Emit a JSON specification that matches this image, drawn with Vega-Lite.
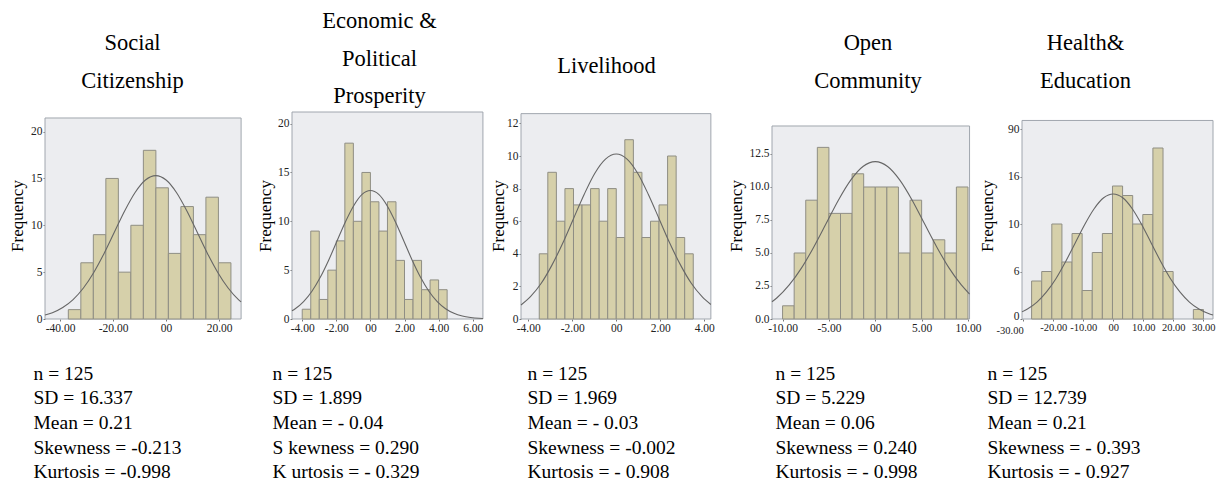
{
  "$schema": "https://vega.github.io/schema/vega-lite/v6.json",
  "padding": {"left": 8, "top": 10, "right": 0, "bottom": 0},
  "background": "white",
  "bounds": "flush",
  "spacing": 20,
  "config": {
    "view": {"stroke": null, "fill": null},
    "font": "Liberation Serif",
    "axis": {"grid": false, "domain": false, "tickSize": 2, "tickColor": "#777777", "labelFont": "Liberation Serif", "labelFontSize": 11.5, "labelColor": "#222222", "labelPadding": 1.5, "labelFlush": false, "labelOverlap": false, "titleFont": "Liberation Serif", "titleFontWeight": "normal", "titleColor": "#000000"},
    "axisX": {"titleAlign": "left", "titleBaseline": "top", "titleFontSize": 19.5, "titleLineHeight": 24.7, "titleY": 45},
    "axisY": {"titleFontSize": 17, "titleBaseline": "middle", "titleAlign": "center", "titleY": 103.5, "labelPadding": 1},
    "title": {"font": "Liberation Serif", "fontSize": 22.5, "fontWeight": "normal", "color": "#000000", "lineHeight": 37.5, "anchor": "middle", "frame": "group", "baseline": "bottom"}
  },
  "datasets": {
    "p1frame": [{"x": -45.7, "x2": 28.3, "y": 0, "y2": 21.45}],
    "p1bars": [
      {"x": -36.9, "x2": -32.18, "y": 1}, {"x": -32.18, "x2": -27.46, "y": 6}, {"x": -27.46, "x2": -22.74, "y": 9},
      {"x": -22.74, "x2": -18.02, "y": 15}, {"x": -18.02, "x2": -13.3, "y": 5}, {"x": -13.3, "x2": -8.58, "y": 10},
      {"x": -8.58, "x2": -3.86, "y": 18}, {"x": -3.86, "x2": 0.86, "y": 14}, {"x": 0.86, "x2": 5.58, "y": 7},
      {"x": 5.58, "x2": 10.3, "y": 12}, {"x": 10.3, "x2": 15.02, "y": 9}, {"x": 15.02, "x2": 19.74, "y": 13},
      {"x": 19.74, "x2": 24.46, "y": 6}
    ],
    "p1curve": [
      {"x": -45.7, "y": 0.42}, {"x": -42.9, "y": 0.67}, {"x": -39.0, "y": 1.22}, {"x": -35.1, "y": 2.07},
      {"x": -31.2, "y": 3.31}, {"x": -27.3, "y": 4.97}, {"x": -23.4, "y": 7.0}, {"x": -19.5, "y": 9.28},
      {"x": -15.6, "y": 11.55}, {"x": -11.7, "y": 13.5}, {"x": -7.8, "y": 14.83}, {"x": -3.9, "y": 15.3},
      {"x": 0.0, "y": 14.83}, {"x": 3.9, "y": 13.5}, {"x": 7.8, "y": 11.55}, {"x": 11.7, "y": 9.28},
      {"x": 15.6, "y": 7.0}, {"x": 19.5, "y": 4.97}, {"x": 23.4, "y": 3.31}, {"x": 27.3, "y": 2.07},
      {"x": 28.3, "y": 1.82}
    ],
    "p2frame": [{"x": -4.6, "x2": 6.6, "y": 0, "y2": 21.19}],
    "p2bars": [
      {"x": -4.0, "x2": -3.5, "y": 1}, {"x": -3.5, "x2": -3.0, "y": 9}, {"x": -3.0, "x2": -2.5, "y": 2},
      {"x": -2.5, "x2": -2.0, "y": 5}, {"x": -2.0, "x2": -1.5, "y": 8}, {"x": -1.5, "x2": -1.0, "y": 18},
      {"x": -1.0, "x2": -0.5, "y": 10}, {"x": -0.5, "x2": 0.0, "y": 15}, {"x": 0.0, "x2": 0.5, "y": 12},
      {"x": 0.5, "x2": 1.0, "y": 9}, {"x": 1.0, "x2": 1.5, "y": 12}, {"x": 1.5, "x2": 2.0, "y": 6},
      {"x": 2.0, "x2": 2.5, "y": 2}, {"x": 2.5, "x2": 3.0, "y": 6}, {"x": 3.0, "x2": 3.5, "y": 3},
      {"x": 3.5, "x2": 4.0, "y": 4}, {"x": 4.0, "x2": 4.5, "y": 3}
    ],
    "p2curve": [
      {"x": -4.6, "y": 0.84}, {"x": -4.41, "y": 1.05}, {"x": -3.92, "y": 1.78}, {"x": -3.43, "y": 2.84},
      {"x": -2.94, "y": 4.27}, {"x": -2.45, "y": 6.02}, {"x": -1.96, "y": 7.98}, {"x": -1.47, "y": 9.93},
      {"x": -0.98, "y": 11.6}, {"x": -0.49, "y": 12.75}, {"x": 0.0, "y": 13.15}, {"x": 0.49, "y": 12.75},
      {"x": 0.98, "y": 11.6}, {"x": 1.47, "y": 9.93}, {"x": 1.96, "y": 7.98}, {"x": 2.45, "y": 6.02},
      {"x": 2.94, "y": 4.27}, {"x": 3.43, "y": 2.84}, {"x": 3.92, "y": 1.78}, {"x": 4.41, "y": 1.05},
      {"x": 4.9, "y": 0.58}, {"x": 5.39, "y": 0.3}, {"x": 5.88, "y": 0.15}, {"x": 6.37, "y": 0.07},
      {"x": 6.6, "y": 0.05}
    ],
    "p3frame": [{"x": -4.33, "x2": 4.3, "y": 0, "y2": 12.6}],
    "p3bars": [
      {"x": -3.5, "x2": -3.111, "y": 4}, {"x": -3.111, "x2": -2.722, "y": 9}, {"x": -2.722, "x2": -2.333, "y": 6},
      {"x": -2.333, "x2": -1.944, "y": 8}, {"x": -1.944, "x2": -1.556, "y": 7}, {"x": -1.556, "x2": -1.167, "y": 7},
      {"x": -1.167, "x2": -0.778, "y": 8}, {"x": -0.778, "x2": -0.389, "y": 6}, {"x": -0.389, "x2": 0.0, "y": 8},
      {"x": 0.0, "x2": 0.389, "y": 5}, {"x": 0.389, "x2": 0.778, "y": 11}, {"x": 0.778, "x2": 1.167, "y": 9},
      {"x": 1.167, "x2": 1.556, "y": 5}, {"x": 1.556, "x2": 1.944, "y": 6}, {"x": 1.944, "x2": 2.333, "y": 7},
      {"x": 2.333, "x2": 2.722, "y": 10}, {"x": 2.722, "x2": 3.111, "y": 5}, {"x": 3.111, "x2": 3.5, "y": 4}
    ],
    "p3curve": [
      {"x": -4.33, "y": 0.86}, {"x": -3.9, "y": 1.37}, {"x": -3.41, "y": 2.19}, {"x": -2.93, "y": 3.29},
      {"x": -2.44, "y": 4.63}, {"x": -1.95, "y": 6.14}, {"x": -1.46, "y": 7.64}, {"x": -0.98, "y": 8.93},
      {"x": -0.49, "y": 9.81}, {"x": 0.0, "y": 10.12}, {"x": 0.49, "y": 9.81}, {"x": 0.98, "y": 8.93},
      {"x": 1.46, "y": 7.64}, {"x": 1.95, "y": 6.14}, {"x": 2.44, "y": 4.63}, {"x": 2.93, "y": 3.29},
      {"x": 3.41, "y": 2.19}, {"x": 3.9, "y": 1.37}, {"x": 4.3, "y": 0.89}
    ],
    "p4frame": [{"x": -11.14, "x2": 10.17, "y": 0, "y2": 14.62}],
    "p4bars": [
      {"x": -10.0, "x2": -8.75, "y": 1}, {"x": -8.75, "x2": -7.5, "y": 5}, {"x": -7.5, "x2": -6.25, "y": 9},
      {"x": -6.25, "x2": -5.0, "y": 13}, {"x": -5.0, "x2": -3.75, "y": 8}, {"x": -3.75, "x2": -2.5, "y": 8},
      {"x": -2.5, "x2": -1.25, "y": 11}, {"x": -1.25, "x2": 0.0, "y": 10}, {"x": 0.0, "x2": 1.25, "y": 10},
      {"x": 1.25, "x2": 2.5, "y": 10}, {"x": 2.5, "x2": 3.75, "y": 5}, {"x": 3.75, "x2": 5.0, "y": 9},
      {"x": 5.0, "x2": 6.25, "y": 5}, {"x": 6.25, "x2": 7.5, "y": 6}, {"x": 7.5, "x2": 8.75, "y": 5},
      {"x": 8.75, "x2": 10.0, "y": 10}
    ],
    "p4curve": [
      {"x": -11.14, "y": 1.31}, {"x": -10.6, "y": 1.61}, {"x": -9.28, "y": 2.58}, {"x": -7.95, "y": 3.87},
      {"x": -6.63, "y": 5.46}, {"x": -5.3, "y": 7.23}, {"x": -3.98, "y": 9.0}, {"x": -2.65, "y": 10.52},
      {"x": -1.33, "y": 11.55}, {"x": 0.0, "y": 11.92}, {"x": 1.33, "y": 11.55}, {"x": 2.65, "y": 10.52},
      {"x": 3.98, "y": 9.0}, {"x": 5.3, "y": 7.23}, {"x": 6.63, "y": 5.46}, {"x": 7.95, "y": 3.87},
      {"x": 9.28, "y": 2.58}, {"x": 10.17, "y": 1.89}
    ],
    "p5frame": [{"x": -30.4, "x2": 33.27, "y": 0, "y2": 20.9}],
    "p5bars": [
      {"x": -27.2, "x2": -23.83, "y": 4}, {"x": -23.83, "x2": -20.46, "y": 5}, {"x": -20.46, "x2": -17.09, "y": 10},
      {"x": -17.09, "x2": -13.72, "y": 6}, {"x": -13.72, "x2": -10.35, "y": 9}, {"x": -10.35, "x2": -6.98, "y": 3},
      {"x": -6.98, "x2": -3.61, "y": 7}, {"x": -3.61, "x2": -0.24, "y": 9}, {"x": -0.24, "x2": 3.13, "y": 14},
      {"x": 3.13, "x2": 6.5, "y": 13}, {"x": 6.5, "x2": 9.87, "y": 10}, {"x": 9.87, "x2": 13.24, "y": 11},
      {"x": 13.24, "x2": 16.61, "y": 18}, {"x": 16.61, "x2": 19.98, "y": 5}, {"x": 26.72, "x2": 30.09, "y": 1}
    ],
    "p5curve": [
      {"x": -30.4, "y": 0.75}, {"x": -28.58, "y": 1.05}, {"x": -25.4, "y": 1.78}, {"x": -22.23, "y": 2.85},
      {"x": -19.05, "y": 4.27}, {"x": -15.88, "y": 6.03}, {"x": -12.7, "y": 7.98}, {"x": -9.53, "y": 9.93},
      {"x": -6.35, "y": 11.61}, {"x": -3.18, "y": 12.76}, {"x": 0.0, "y": 13.16}, {"x": 3.18, "y": 12.76},
      {"x": 6.35, "y": 11.61}, {"x": 9.53, "y": 9.93}, {"x": 12.7, "y": 7.98}, {"x": 15.88, "y": 6.03},
      {"x": 19.05, "y": 4.27}, {"x": 22.23, "y": 2.85}, {"x": 25.4, "y": 1.78}, {"x": 28.58, "y": 1.05},
      {"x": 31.75, "y": 0.58}, {"x": 33.27, "y": 0.43}
    ]
  },
  "hconcat": [
    {
      "width": 227, "height": 207,
      "title": {"text": ["Social", "Citizenship"], "offset": 20, "dx": -26},
      "encoding": {
        "x": {"field": "x", "type": "quantitative", "scale": {"domain": [-45.7, 39.96], "nice": false, "zero": false},
          "axis": {"values": [-40, -20, 0, 20], "labelExpr": "datum.value == 0 ? '00' : replace(format(datum.value, '.2f'), '\u2212', '-')",
            "title": ["n = 125", "SD = 16.337", "Mean = 0.21", "Skewness = -0.213", "Kurtosis = -0.998"], "titleX": -12}},
        "y": {"field": "y", "type": "quantitative", "scale": {"domain": [0, 22.09], "nice": false},
          "axis": {"values": [0, 5, 10, 15, 20], "title": "Frequency", "titleX": -28}}
      },
      "layer": [
        {"data": {"name": "p1frame"}, "mark": {"type": "rect", "fill": "#ECEDF0", "stroke": "#A0A6AE", "strokeWidth": 1}, "encoding": {"x2": {"field": "x2"}, "y2": {"field": "y2"}}},
        {"data": {"name": "p1bars"}, "mark": {"type": "rect", "fill": "#D6D0AA", "stroke": "#8F8E84", "strokeWidth": 1}, "encoding": {"x2": {"field": "x2"}, "y2": {"datum": 0}}},
        {"data": {"name": "p1curve"}, "mark": {"type": "line", "color": "#666666", "strokeWidth": 1.1, "interpolate": "monotone"}, "encoding": {}}
      ]
    },
    {
      "width": 209, "height": 207,
      "title": {"text": ["Economic &", "Political", "Prosperity"], "offset": 4, "dx": -17},
      "encoding": {
        "x": {"field": "x", "type": "quantitative", "scale": {"domain": [-4.6, 7.66], "nice": false, "zero": false},
          "axis": {"values": [-4, -2, 0, 2, 4, 6], "labelExpr": "datum.value == 0 ? '00' : replace(format(datum.value, '.2f'), '\u2212', '-')",
            "title": ["n = 125", "SD = 1.899", "Mean = - 0.04", "S kewness =  0.290", "K urtosis = - 0.329"], "titleX": -20}},
        "y": {"field": "y", "type": "quantitative", "scale": {"domain": [0, 21.19], "nice": false},
          "axis": {"values": [0, 5, 10, 15, 20], "title": "Frequency", "titleX": -27}}
      },
      "layer": [
        {"data": {"name": "p2frame"}, "mark": {"type": "rect", "fill": "#ECEDF0", "stroke": "#A0A6AE", "strokeWidth": 1}, "encoding": {"x2": {"field": "x2"}, "y2": {"field": "y2"}}},
        {"data": {"name": "p2bars"}, "mark": {"type": "rect", "fill": "#D6D0AA", "stroke": "#8F8E84", "strokeWidth": 1}, "encoding": {"x2": {"field": "x2"}, "y2": {"datum": 0}}},
        {"data": {"name": "p2curve"}, "mark": {"type": "line", "color": "#666666", "strokeWidth": 1.1, "interpolate": "monotone"}, "encoding": {}}
      ]
    },
    {
      "width": 231, "height": 207,
      "title": {"text": ["Livelihood"], "offset": 35, "dx": -30},
      "encoding": {
        "x": {"field": "x", "type": "quantitative", "scale": {"domain": [-4.33, 6.17], "nice": false, "zero": false},
          "axis": {"values": [-4, -2, 0, 2, 4], "labelExpr": "datum.value == 0 ? '00' : replace(format(datum.value, '.2f'), '\u2212', '-')",
            "title": ["n = 125", "SD = 1.969", "Mean =  - 0.03", "Skewness = -0.002", "Kurtosis = - 0.908"], "titleX": 6}},
        "y": {"field": "y", "type": "quantitative", "scale": {"domain": [0, 12.7], "nice": false},
          "axis": {"values": [0, 2, 4, 6, 8, 10, 12], "title": "Frequency", "titleX": -23}}
      },
      "layer": [
        {"data": {"name": "p3frame"}, "mark": {"type": "rect", "fill": "#ECEDF0", "stroke": "#A0A6AE", "strokeWidth": 1}, "encoding": {"x2": {"field": "x2"}, "y2": {"field": "y2"}}},
        {"data": {"name": "p3bars"}, "mark": {"type": "rect", "fill": "#D6D0AA", "stroke": "#8F8E84", "strokeWidth": 1}, "encoding": {"x2": {"field": "x2"}, "y2": {"datum": 0}}},
        {"data": {"name": "p3curve"}, "mark": {"type": "line", "color": "#666666", "strokeWidth": 1.1, "interpolate": "monotone"}, "encoding": {}}
      ]
    },
    {
      "width": 230, "height": 207,
      "title": {"text": ["Open", "Community"], "offset": 20, "dx": -19},
      "encoding": {
        "x": {"field": "x", "type": "quantitative", "scale": {"domain": [-11.14, 13.67], "nice": false, "zero": false},
          "axis": {"values": [-10, -5, 0, 5, 10], "labelExpr": "datum.value == 0 ? '00' : replace(format(datum.value, '.2f'), '\u2212', '-')",
            "title": ["n = 125", "SD =  5.229", "Mean = 0.06", "Skewness = 0.240", "Kurtosis =  - 0.998"], "titleX": 3}},
        "y": {"field": "y", "type": "quantitative", "scale": {"domain": [0, 15.68], "nice": false},
          "axis": {"values": [0, 2.5, 5, 7.5, 10, 12.5], "format": ".1f", "title": "Frequency", "titleX": -36}}
      },
      "layer": [
        {"data": {"name": "p4frame"}, "mark": {"type": "rect", "fill": "#ECEDF0", "stroke": "#A0A6AE", "strokeWidth": 1}, "encoding": {"x2": {"field": "x2"}, "y2": {"field": "y2"}}},
        {"data": {"name": "p4bars"}, "mark": {"type": "rect", "fill": "#D6D0AA", "stroke": "#8F8E84", "strokeWidth": 1}, "encoding": {"x2": {"field": "x2"}, "y2": {"datum": 0}}},
        {"data": {"name": "p4curve"}, "mark": {"type": "line", "color": "#666666", "strokeWidth": 1.1, "interpolate": "monotone"}, "encoding": {}}
      ]
    },
    {
      "width": 191, "height": 207,
      "title": {"text": ["Health&", "Education"], "offset": 20, "dx": -32},
      "encoding": {
        "x": {"field": "x", "type": "quantitative", "scale": {"domain": [-30.4, 33.27], "nice": false, "zero": false},
          "axis": {"values": [-30, -20, -10, 0, 10, 20, 30], "labelFontSize": 10.5,
            "labelAlign": {"condition": {"test": "datum.value == -30", "value": "right"}, "value": "center"},
            "labelPadding": {"condition": {"test": "datum.value == -30", "value": 4}, "value": 1.5},
            "labelExpr": "datum.value == 0 ? '00' : replace(format(datum.value, '.2f'), '\u2212', '-')",
            "title": ["n = 125", "SD = 12.739", "Mean = 0.21", "Skewness =  - 0.393", "Kurtosis = - 0.927"], "titleX": -35}},
        "y": {"field": "y", "type": "quantitative", "scale": {"domain": [0, 21.79], "nice": false},
          "axis": {"values": [0, 5, 10, 15, 20],
            "labelBaseline": {"condition": {"test": "datum.value == 0", "value": "alphabetic"}, "value": "middle"},
            "labelExpr": "datum.value == 5 ? '6' : datum.value == 15 ? '16' : datum.value == 20 ? '90' : format(datum.value, 'd')", "title": "Frequency", "titleX": -35}}
      },
      "layer": [
        {"data": {"name": "p5frame"}, "mark": {"type": "rect", "fill": "#ECEDF0", "stroke": "#A0A6AE", "strokeWidth": 1}, "encoding": {"x2": {"field": "x2"}, "y2": {"field": "y2"}}},
        {"data": {"name": "p5bars"}, "mark": {"type": "rect", "fill": "#D6D0AA", "stroke": "#8F8E84", "strokeWidth": 1}, "encoding": {"x2": {"field": "x2"}, "y2": {"datum": 0}}},
        {"data": {"name": "p5curve"}, "mark": {"type": "line", "color": "#666666", "strokeWidth": 1.1, "interpolate": "monotone"}, "encoding": {}}
      ]
    }
  ]
}
